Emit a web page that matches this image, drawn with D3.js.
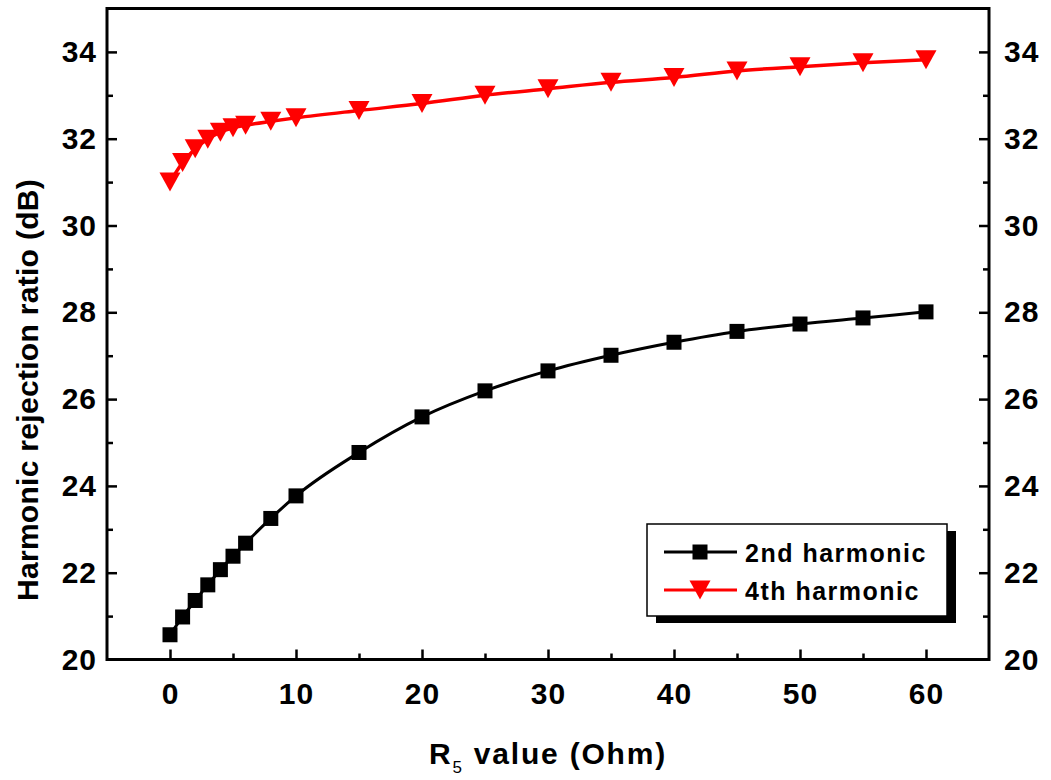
<!DOCTYPE html>
<html>
<head>
<meta charset="utf-8">
<script src="https://cdn.jsdelivr.net/npm/d3@7"></script>
<style>
  html, body { margin: 0; padding: 0; background: #fff; }
  svg { display: block; }
  text { font-family: "Liberation Sans", Arial, sans-serif; font-weight: bold; fill: #000; }
</style>
</head>
<body>
<svg id="chart" width="1051" height="780"></svg>
<script>
// R5 resistance values (Ohm)
const r5Values = [0, 1, 2, 3, 4, 5, 6, 8, 10, 15, 20, 25, 30, 35, 40, 45, 50, 55, 60];
// Harmonic rejection ratio (dB)
const secondHarmonic = [20.57, 20.98, 21.36, 21.72, 22.07, 22.38, 22.68, 23.25, 23.77, 24.77, 25.59, 26.19, 26.65, 27.01, 27.31, 27.56, 27.73, 27.87, 28.01];
const fourthHarmonic = [31.0, 31.45, 31.77, 31.99, 32.15, 32.25, 32.31, 32.4, 32.48, 32.65, 32.81, 33.0, 33.15, 33.3, 33.41, 33.56, 33.66, 33.75, 33.82];
const seriesNames = ["2nd harmonic", "4th harmonic"];
const xMajorTicks = [0, 10, 20, 30, 40, 50, 60];
const xMinorTicks = [-5, 5, 15, 25, 35, 45, 55, 65];
const yMajorTicks = [20, 22, 24, 26, 28, 30, 32, 34];
const yMinorTicks = [21, 23, 25, 27, 29, 31, 33, 35];

const svg = d3.select("#chart");
const L = 107, R = 989, T = 8.5, B = 659.5;

const x = d3.scaleLinear().domain([-5, 65]).range([L, R]);
const y = d3.scaleLinear().domain([20, 35]).range([B, T]);

function styleAxis(g) {
  g.select(".domain").remove();
  g.selectAll(".tick line").attr("stroke", "#000").attr("stroke-width", 2.5);
  g.selectAll(".tick text")
    .style("font-family", '"Liberation Sans", Arial, sans-serif')
    .style("font-weight", "bold")
    .style("font-size", "30px")
    .style("letter-spacing", "1px")
    .attr("fill", "#000");
}

// bottom axis: inward ticks
svg.append("g").attr("transform", `translate(0,${B})`)
  .call(d3.axisBottom(x).tickValues(xMajorTicks).tickSizeInner(-10).tickSizeOuter(0).tickPadding(23))
  .call(styleAxis);
svg.append("g").attr("transform", `translate(0,${B})`)
  .call(d3.axisBottom(x).tickValues(xMinorTicks.filter(v => v > -5 && v < 65)).tickSizeInner(-6).tickSizeOuter(0).tickFormat(""))
  .call(styleAxis);

// left axis
svg.append("g").attr("transform", `translate(${L},0)`)
  .call(d3.axisLeft(y).tickValues(yMajorTicks.slice(1)).tickSizeInner(-10).tickSizeOuter(0).tickPadding(10))
  .call(styleAxis);
svg.append("g").attr("transform", `translate(${L},0)`)
  .call(d3.axisLeft(y).tickValues(yMajorTicks.slice(0, 1)).tickSizeInner(0).tickSizeOuter(0).tickPadding(10))
  .call(styleAxis);
svg.append("g").attr("transform", `translate(${L},0)`)
  .call(d3.axisLeft(y).tickValues(yMinorTicks.filter(v => v < 35)).tickSizeInner(-6).tickSizeOuter(0).tickFormat(""))
  .call(styleAxis);

// right axis
svg.append("g").attr("transform", `translate(${R},0)`)
  .call(d3.axisRight(y).tickValues(yMajorTicks.slice(1)).tickSizeInner(-10).tickSizeOuter(0).tickPadding(15))
  .call(styleAxis);
svg.append("g").attr("transform", `translate(${R},0)`)
  .call(d3.axisRight(y).tickValues(yMajorTicks.slice(0, 1)).tickSizeInner(0).tickSizeOuter(0).tickPadding(15))
  .call(styleAxis);
svg.append("g").attr("transform", `translate(${R},0)`)
  .call(d3.axisRight(y).tickValues(yMinorTicks.filter(v => v < 35)).tickSizeInner(-6).tickSizeOuter(0).tickFormat(""))
  .call(styleAxis);

// frame
svg.append("rect")
  .attr("x", L).attr("y", T).attr("width", R - L).attr("height", B - T)
  .attr("fill", "none").attr("stroke", "#000").attr("stroke-width", 3);

// axis titles
const xt = svg.append("text")
  .attr("x", (L + R) / 2).attr("y", 764)
  .attr("text-anchor", "middle")
  .style("font-size", "30px").style("letter-spacing", "1.8px");
xt.append("tspan").text("R");
xt.append("tspan").attr("dy", 9).style("font-size", "17px").style("font-weight", "normal").text("5");
xt.append("tspan").attr("dy", -9).text(" value (Ohm)");

svg.append("text")
  .attr("transform", `translate(38,390) rotate(-90)`)
  .attr("text-anchor", "middle")
  .style("font-size", "30px").style("letter-spacing", "0.3px")
  .text("Harmonic rejection ratio (dB)");

// series
const line = d3.line().curve(d3.curveMonotoneX);
const pts2 = r5Values.map((v, i) => [x(v), y(secondHarmonic[i])]);
const pts4 = r5Values.map((v, i) => [x(v), y(fourthHarmonic[i])]);

const triPath = "M-10.5,-9.5L10.5,-9.5L0,9.5Z";

svg.append("path").attr("d", line(pts4)).attr("fill", "none").attr("stroke", "#ff0000").attr("stroke-width", 3.5);
svg.append("path").attr("d", line(pts2)).attr("fill", "none").attr("stroke", "#000").attr("stroke-width", 3);

svg.append("g").selectAll("rect").data(pts2).join("rect")
  .attr("x", d => d[0] - 7.5).attr("y", d => d[1] - 7.5)
  .attr("width", 15).attr("height", 15).attr("fill", "#000");

svg.append("g").selectAll("path").data(pts4).join("path")
  .attr("transform", d => `translate(${d[0]},${d[1]})`)
  .attr("d", triPath).attr("fill", "#ff0000");

// legend
const lg = svg.append("g");
lg.append("rect").attr("x", 656).attr("y", 531).attr("width", 300).attr("height", 92).attr("fill", "#000");
lg.append("rect").attr("x", 647).attr("y", 524).attr("width", 300).attr("height", 92)
  .attr("fill", "#fff").attr("stroke", "#000").attr("stroke-width", 1.5);

const rows = [
  { name: seriesNames[0], color: "#000", y: 552, marker: "square" },
  { name: seriesNames[1], color: "#ff0000", y: 590, marker: "tri" }
];
rows.forEach(r => {
  lg.append("line").attr("x1", 664).attr("x2", 737).attr("y1", r.y).attr("y2", r.y)
    .attr("stroke", r.color).attr("stroke-width", 3);
  if (r.marker === "square") {
    lg.append("rect").attr("x", 700 - 7.5).attr("y", r.y - 7.5).attr("width", 15).attr("height", 15).attr("fill", r.color);
  } else {
    lg.append("path").attr("transform", `translate(700,${r.y})`).attr("d", triPath).attr("fill", r.color);
  }
  lg.append("text").attr("x", 745).attr("y", r.y + 10)
    .style("font-size", "25px").style("letter-spacing", "1.5px")
    .text(r.name);
});
</script>
</body>
</html>
